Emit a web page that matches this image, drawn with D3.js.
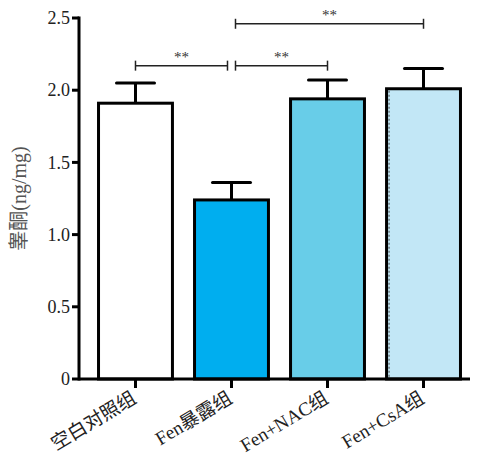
<!DOCTYPE html>
<html>
<head>
<meta charset="utf-8">
<script src="https://cdn.jsdelivr.net/npm/d3@7"></script>
<style>
  body { margin: 0; background: #fff; }
  text { font-family: "Liberation Serif", "Noto Sans CJK SC", serif; }
</style>
</head>
<body>
<svg id="chart" width="477" height="455"></svg>
<script>
const groups = ["空白对照组", "Fen暴露组", "Fen+NAC组", "Fen+CsA组"];
const means = [1.91, 1.24, 1.94, 2.01];
const errors = [0.14, 0.12, 0.13, 0.14];
const fills = ["#ffffff", "#00aeef", "#68cde8", "#c2e7f6"];
const yTicks = [0, 0.5, 1.0, 1.5, 2.0, 2.5];
const yTickLabels = ["0", "0.5", "1.0", "1.5", "2.0", "2.5"];
// brackets: [from group, to group, height in data units, end offset]
const brackets = [[0, 1, 2.17, -4], [1, 2, 2.17, 4], [1, 3, 2.46, 4]];

const svg = d3.select("#chart");
const plotLeft = 79, plotRight = 470, plotTop = 18, plotBottom = 379;

let y = d3.scaleLinear().domain([0, 2.5]).range([plotBottom, plotTop]);
let x = d3.scaleBand()
    .domain(d3.range(groups.length))
    .range([87, 472])
    .paddingInner(0.23)
    .paddingOuter(0.12);

// bars
svg.selectAll("rect.bar")
    .data(means)
    .enter().append("rect")
    .attr("class", "bar")
    .attr("x", (d, i) => x(i))
    .attr("y", d => y(d))
    .attr("width", x.bandwidth())
    .attr("height", d => plotBottom - y(d))
    .style("fill", (d, i) => fills[i])
    .style("stroke", "#000")
    .style("stroke-width", 3);

// dashed inner edge on last bar
svg.append("line")
    .attr("x1", x(3) + 2.5).attr("x2", x(3) + 2.5)
    .attr("y1", y(means[3]) + 2).attr("y2", plotBottom)
    .style("stroke", "#444").style("stroke-width", 1).style("stroke-dasharray", "2,2");

// error bars
let cx = i => x(i) + x.bandwidth() / 2;
let err = svg.selectAll("g.err")
    .data(means)
    .enter().append("g")
    .attr("class", "err");

err.append("line")
    .attr("x1", (d, i) => cx(i)).attr("x2", (d, i) => cx(i))
    .attr("y1", d => y(d)).attr("y2", (d, i) => y(d + errors[i]))
    .style("stroke", "#000").style("stroke-width", 3);

err.append("line")
    .attr("x1", (d, i) => cx(i) - 19).attr("x2", (d, i) => cx(i) + 19)
    .attr("y1", (d, i) => y(d + errors[i])).attr("y2", (d, i) => y(d + errors[i]))
    .style("stroke", "#000").style("stroke-width", 3).style("stroke-linecap", "round");

// axes
svg.append("line")
    .attr("x1", plotLeft).attr("x2", plotLeft).attr("y1", plotTop - 1.5).attr("y2", plotBottom + 1.5)
    .style("stroke", "#000").style("stroke-width", 3);
svg.append("line")
    .attr("x1", plotLeft).attr("x2", plotRight).attr("y1", plotBottom).attr("y2", plotBottom)
    .style("stroke", "#000").style("stroke-width", 3);

svg.selectAll("line.ytick")
    .data(yTicks)
    .enter().append("line")
    .attr("class", "ytick")
    .attr("x1", plotLeft - 7).attr("x2", plotLeft)
    .attr("y1", d => y(d)).attr("y2", d => y(d))
    .style("stroke", "#000").style("stroke-width", 3);

svg.selectAll("text.ylab")
    .data(yTicks)
    .enter().append("text")
    .attr("class", "ylab")
    .attr("x", plotLeft - 9)
    .attr("y", d => y(d))
    .attr("dy", "0.34em")
    .attr("text-anchor", "end")
    .style("font-size", "18px")
    .style("fill", "#222")
    .text((d, i) => yTickLabels[i]);

svg.selectAll("line.xtick")
    .data(groups)
    .enter().append("line")
    .attr("class", "xtick")
    .attr("x1", (d, i) => cx(i)).attr("x2", (d, i) => cx(i))
    .attr("y1", plotBottom).attr("y2", plotBottom + 9)
    .style("stroke", "#000").style("stroke-width", 3);

svg.selectAll("text.xlab")
    .data(groups)
    .enter().append("text")
    .attr("class", "xlab")
    .attr("transform", (d, i) => `translate(${cx(i) - 5}, ${plotBottom + 11}) rotate(-31)`)
    .attr("text-anchor", "end")
    .attr("dy", "0.72em")
    .style("font-size", "19px")
    .style("fill", "#222")
    .text(d => d);

// y axis title
svg.append("text")
    .attr("transform", `translate(26, ${(plotTop + plotBottom) / 2}) rotate(-90)`)
    .attr("text-anchor", "middle")
    .style("font-size", "20px")
    .style("fill", "#555")
    .text("睾酮(ng/mg)");

// significance brackets
brackets.forEach(([a, b, h, off]) => {
    let x1 = cx(a) + (off > 0 ? off : 0), x2 = cx(b) + (off < 0 ? off : 0);
    let yy = y(h);
    let g = svg.append("g").style("stroke", "#222").style("stroke-width", 1.5);
    g.append("line").attr("x1", x1).attr("x2", x2).attr("y1", yy).attr("y2", yy);
    g.append("line").attr("x1", x1).attr("x2", x1).attr("y1", yy - 5).attr("y2", yy + 5);
    g.append("line").attr("x1", x2).attr("x2", x2).attr("y1", yy - 5).attr("y2", yy + 5);
    svg.append("text")
        .attr("x", (x1 + x2) / 2)
        .attr("y", yy - 4)
        .attr("text-anchor", "middle")
        .style("font-size", "15px")
        .style("fill", "#333")
        .text("**");
});
</script>
</body>
</html>
